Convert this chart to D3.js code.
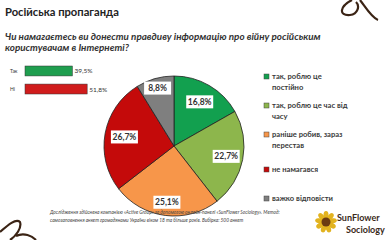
<!DOCTYPE html>
<html><head><meta charset="utf-8">
<script src="https://cdn.jsdelivr.net/npm/d3@7"></script>
<style>body{margin:0;background:#fff}svg{display:block}text{font-family:Lato,"Open Sans",sans-serif}</style>
</head><body><svg id="c" width="390" height="240"></svg>
<script>
const title = "Російська пропаганда";
const question = ["Чи намагаєтесь ви донести правдиву інформацію про війну російським", "користувачам в Інтернеті?"];
const barCats = ["Так", "Ні"];
const barVals = [39.5, 51.8];
const barColors = ["#1f9e4f", "#d01c1c"];
const pieCats = [["так, роблю це", "постійно"], ["так, роблю це час від", "часу"], ["раніше робив, зараз", "перестав"], ["не намагався"], ["важко відповісти"]];
const pieVals = [16.8, 22.7, 25.1, 26.7, 8.8];
const pieColors = ["#12a04f", "#8db64c", "#f7964a", "#c40a0a", "#7f7f7f"];
const footnote = ["Дослідження здійснена компанією «Active Group» за допомогою онлайн-панелі «SunFlower Sociology». Метод:", "самозаповнення анкет громадянами України віком 18 та більше років. Вибірка: 500 анкет"];
const fmt = v => v.toFixed(1).replace(".", ",") + "%";

const svg = d3.select("#c");
function fit(sel, w) { const l = sel.node().getComputedTextLength(); const fs = +sel.attr("font-size"); sel.attr("font-size", fs * w / l); }

fit(svg.append("text").attr("x", 5).attr("y", 16).attr("font-size", 11).attr("font-weight", 700).attr("fill", "#222").text(title), 114);
const q0 = svg.append("text").attr("x", 5).attr("y", 40).attr("font-size", 8.5).attr("font-weight", 700).attr("font-style", "italic").attr("fill", "#333").text(question[0]);
fit(q0, 316);
svg.append("text").attr("x", 5).attr("y", 51).attr("font-size", q0.attr("font-size")).attr("font-weight", 700).attr("font-style", "italic").attr("fill", "#333").text(question[1]);

// bars
const x = d3.scaleLinear().domain([0, 100]).range([25, 145]);
const y = d3.scaleBand().domain(barCats).range([66, 94]).paddingInner(0.45);
const bg = svg.append("g");
bg.selectAll("rect").data(barCats).join("rect")
  .attr("x", x(0)).attr("y", d => y(d)).attr("width", (d, i) => x(barVals[i]) - x(0)).attr("height", y.bandwidth())
  .attr("fill", (d, i) => barColors[i]).attr("stroke", "#333").attr("stroke-width", 0.5);
bg.selectAll(".cl").data(barCats).join("text").attr("class", "cl")
  .attr("x", 10).attr("y", d => y(d) + y.bandwidth() / 2 + 2).attr("font-size", 5).attr("fill", "#333").text(d => d);
bg.selectAll(".vl").data(barCats).join("text").attr("class", "vl")
  .attr("x", (d, i) => x(barVals[i]) + 2).attr("y", d => y(d) + y.bandwidth() / 2 + 2.5).attr("font-size", 6.5).attr("fill", "#333").text((d, i) => fmt(barVals[i]));

// pie
const cx = 174, cy = 146, r = 70;
const pie = d3.pie().sort(null).value(d => d)(pieVals);
const arc = d3.arc().innerRadius(0).outerRadius(r);
const pg = svg.append("g").attr("transform", `translate(${cx},${cy})`);
pg.selectAll("path").data(pie).join("path").attr("d", arc)
  .attr("fill", (d, i) => pieColors[i]).attr("stroke", "#222").attr("stroke-width", 0.8);
const lblRad = [0.73, 0.76, 0.81, 0.72, 0.86];
const lg = pg.selectAll(".lbl").data(pie).join("g").attr("class", "lbl")
  .attr("transform", (d, i) => { const a = (d.startAngle + d.endAngle) / 2, rr = r * lblRad[i]; return `translate(${Math.sin(a) * rr},${-Math.cos(a) * rr})`; });
lg.append("rect").attr("x", -13.5).attr("y", -6.5).attr("width", 27).attr("height", 13).attr("fill", "#fff");
lg.append("text").attr("text-anchor", "middle").attr("y", 3).attr("font-size", 8.5).attr("font-weight", 700).attr("fill", "#333").text(d => fmt(d.data));

// legend
const legY = [79, 108, 137, 172, 201];
const leg = svg.append("g");
pieCats.forEach((lines, i) => {
  leg.append("rect").attr("x", 264).attr("y", legY[i] - 5).attr("width", 5).attr("height", 5)
    .attr("fill", pieColors[i]).attr("stroke", "#444").attr("stroke-width", 0.5);
  lines.forEach((t, j) => leg.append("text").attr("x", 272).attr("y", legY[i] + j * 11).attr("font-size", 7.6).attr("font-weight", 700).attr("fill", "#3a3a3a").text(t));
});

// footnote
footnote.forEach((t, i) => svg.append("text").attr("x", 50).attr("y", 214 + i * 8).attr("font-size", 4.8).attr("font-style", "italic").attr("fill", "#444").text(t));

// logo
const lgo = svg.append("g").attr("transform", "translate(326,222)");
[0, 40, 80, 120, 160, 200, 240, 280, 320].forEach(a => lgo.append("ellipse").attr("cx", 0).attr("cy", -7).attr("rx", 2.5).attr("ry", 4).attr("fill", "#e2b320").attr("transform", `rotate(${a})`));
lgo.append("circle").attr("cx", 0).attr("cy", 0).attr("r", 4.5).attr("fill", "#6b3b12");
lgo.append("text").attr("x", 11).attr("y", -1).attr("font-size", 9).attr("font-weight", 700).attr("fill", "#3a2a1a").text("SunFlower");
lgo.append("text").attr("x", 20).attr("y", 11).attr("font-size", 9).attr("font-weight", 700).attr("fill", "#3a2a1a").text("Sociology");

// decorative outlines
svg.append("path").attr("d", "M352,0 C340,6 338,16 350,15 C358,14 360,6 356,2 M360,0 C366,8 372,18 378,20")
  .attr("fill", "none").attr("stroke", "#3b2415").attr("stroke-width", 2.2);
svg.append("path").attr("d", "M0,232 C8,225 16,218 20,222 C22,228 16,236 10,240 M16,236 C24,232 32,236 36,240")
  .attr("fill", "none").attr("stroke", "#3b2415").attr("stroke-width", 2.2);
</script></body></html>
